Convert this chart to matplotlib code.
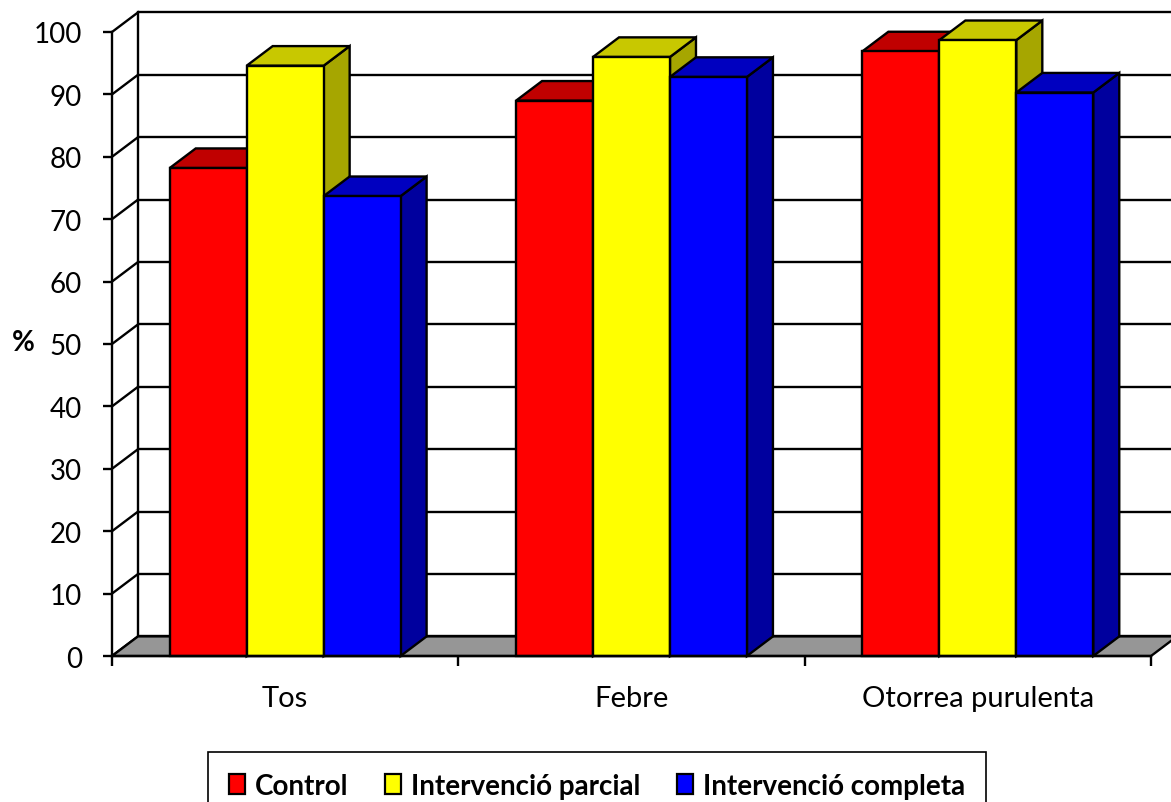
import matplotlib
matplotlib.use("Agg")
import matplotlib.pyplot as plt
from matplotlib.patches import Polygon, Patch

# Data (percentages)
categories = ["Tos", "Febre", "Otorrea purulenta"]
series_names = ["Control", "Intervenció parcial", "Intervenció completa"]
control = [78.2, 89.0, 96.9]
parcial = [94.6, 96.0, 98.7]
completa = [73.7, 92.8, 90.3]
y_ticks = list(range(0, 101, 10))

front_colors = ["#FF0000", "#FFFF00", "#0000FF"]
top_colors = ["#C00000", "#C8C800", "#0000C0"]
side_colors = ["#960000", "#A6A600", "#00009E"]

plt.rcParams["font.family"] = ["Lato", "DejaVu Sans"]

W, H, DPI = 1171, 803, 100
fig = plt.figure(figsize=(W / DPI, H / DPI), dpi=DPI)
fig.patch.set_facecolor("white")

# front plane of the plot box, in pixels
x_left, x_right = 112, 1151
y_zero, y_top = 657, 33
ax = fig.add_axes([x_left / W, 1 - y_zero / H,
                   (x_right - x_left) / W, (y_zero - y_top) / H])
ax.set_xlim(0, 3)
ax.set_ylim(0, 100)
ax.patch.set_visible(False)

# depth vector of the pseudo-3D box, in data units
px_per_x = (x_right - x_left) / 3
px_per_y = (y_zero - y_top) / 100
DX = 26 / px_per_x
DY = 19.6 / px_per_y

LW = 1.7
ncat = len(categories)

# back wall gridlines and their connectors to the front axis
for t in y_ticks:
    ax.plot([DX, ncat + DX], [t + DY, t + DY], color="black", lw=LW,
            zorder=1, clip_on=False, solid_capstyle="butt")
    ax.plot([0, DX], [t, t + DY], color="black", lw=LW, zorder=1,
            clip_on=False)
ax.plot([DX, DX], [DY, 100 + DY], color="black", lw=LW, zorder=1,
        clip_on=False)

# floor
floor = Polygon([(0, 0), (ncat, 0), (ncat + DX, DY), (DX, DY)],
                closed=True, facecolor="#969696", edgecolor="black",
                lw=LW, zorder=2, clip_on=False)
ax.add_patch(floor)

# bars
series = [control, parcial, completa]
bar_w = 2 / 9
start = 1 / 6
z = 3
for i in range(ncat):
    for j, vals in enumerate(series):
        v = vals[i]
        x0 = i + start + j * bar_w
        x1 = x0 + bar_w
        side = Polygon([(x1, 0), (x1 + DX, DY), (x1 + DX, v + DY), (x1, v)],
                       closed=True, facecolor=side_colors[j],
                       edgecolor="black", lw=LW, zorder=z, clip_on=False,
                       joinstyle="miter")
        top = Polygon([(x0, v), (x1, v), (x1 + DX, v + DY), (x0 + DX, v + DY)],
                      closed=True, facecolor=top_colors[j],
                      edgecolor="black", lw=LW, zorder=z, clip_on=False,
                      joinstyle="miter")
        front = Polygon([(x0, 0), (x1, 0), (x1, v), (x0, v)],
                        closed=True, facecolor=front_colors[j],
                        edgecolor="black", lw=LW, zorder=z + 0.5,
                        clip_on=False, joinstyle="miter")
        ax.add_patch(side)
        ax.add_patch(top)
        ax.add_patch(front)
        z += 1

# axes
for s in ["top", "right"]:
    ax.spines[s].set_visible(False)
for s in ["left", "bottom"]:
    ax.spines[s].set_linewidth(LW)
    ax.spines[s].set_zorder(z + 1)

ax.set_yticks(y_ticks)
ax.set_yticklabels([str(t) for t in y_ticks])
ax.tick_params(axis="y", direction="out", length=6.5, width=LW,
               pad=15, labelsize=20)

ax.set_xticks(range(ncat + 1))
ax.set_xticklabels([])
ax.set_xticks([i + 0.5 for i in range(ncat)], minor=True)
ax.set_xticklabels(categories, minor=True)
ax.tick_params(axis="x", which="major", direction="out", length=7.2,
               width=LW)
ax.tick_params(axis="x", which="minor", length=0, pad=21, labelsize=21)

fig.text(23 / W, 1 - 343 / H, "%", fontsize=20, fontweight="bold",
         ha="center", va="center")

# legend
handles = [Patch(facecolor=c, edgecolor="black", lw=1.6) for c in front_colors]
leg = fig.legend(handles, series_names, loc="upper center",
                 bbox_to_anchor=(597 / W, 1 - 753 / H), ncol=3,
                 frameon=True, fancybox=False, edgecolor="black",
                 framealpha=1, prop={"weight": "bold", "size": 20},
                 handlelength=0.6, handleheight=0.7, handletextpad=0.35,
                 columnspacing=1.3, borderpad=0.75, borderaxespad=0)
leg.get_frame().set_linewidth(1.2)

fig.savefig("out.png", dpi=DPI)
